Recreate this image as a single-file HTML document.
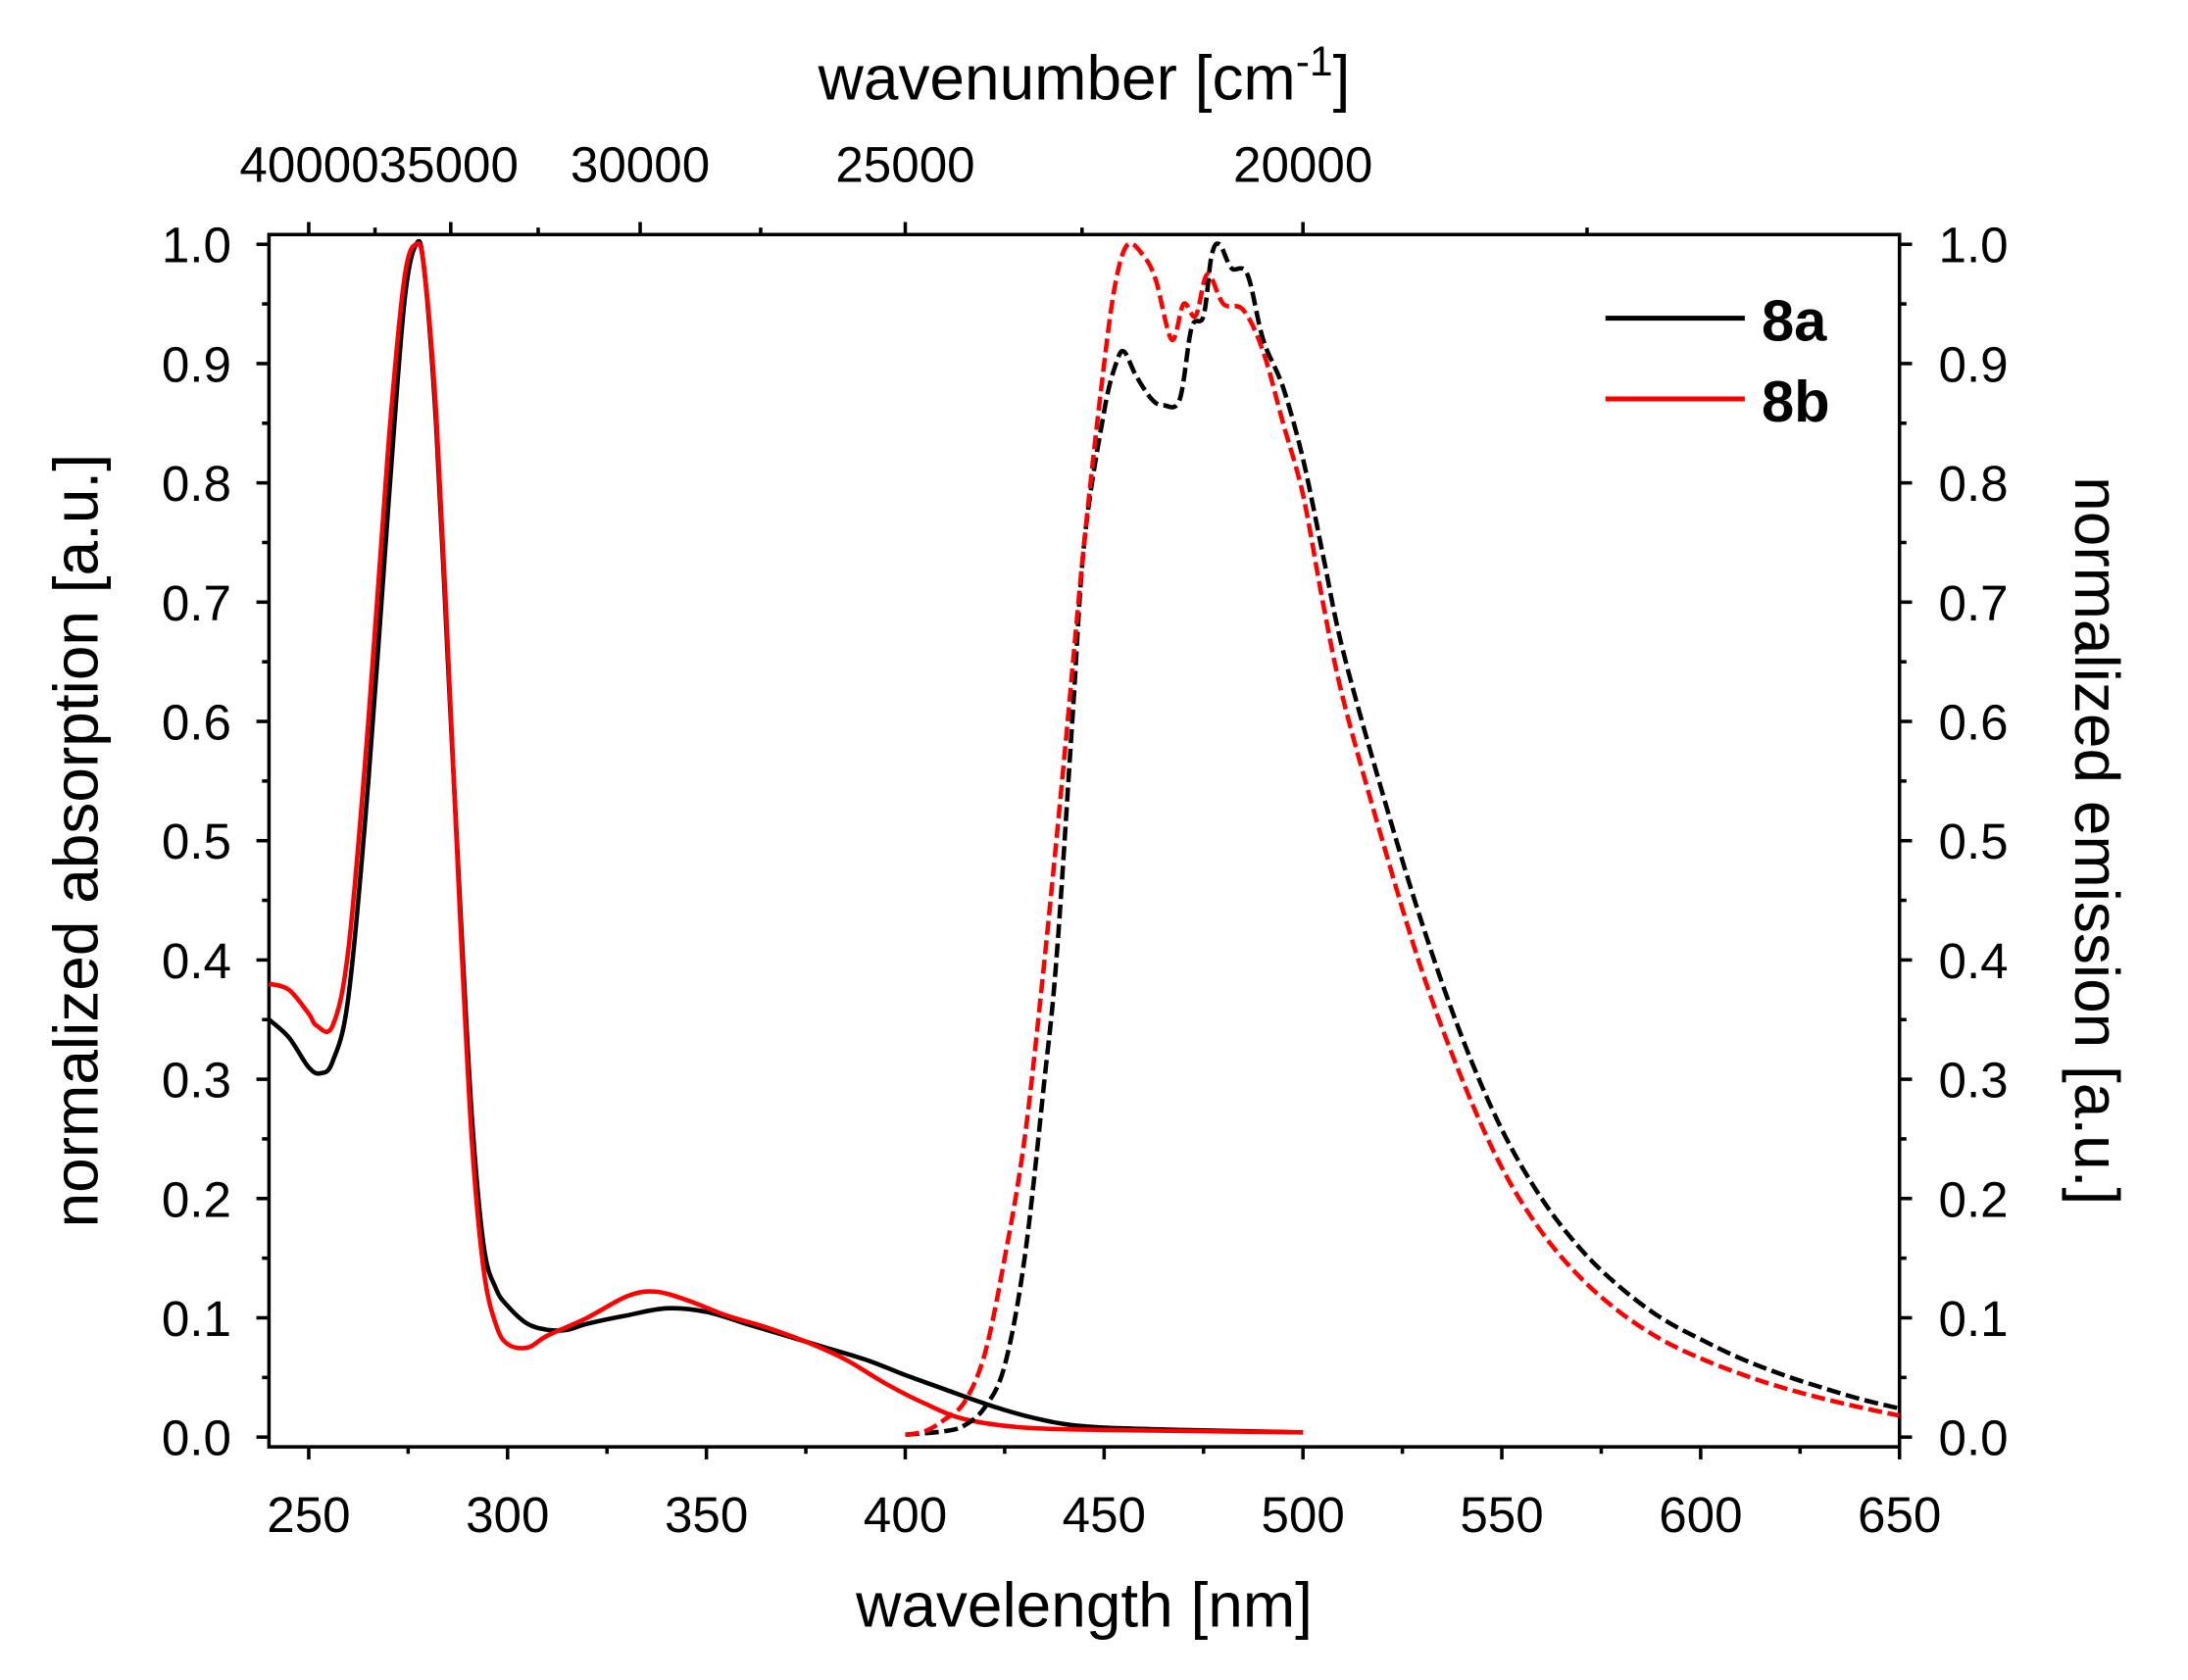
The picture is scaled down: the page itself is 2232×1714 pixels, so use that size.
<!DOCTYPE html>
<html><head><meta charset="utf-8">
<style>html,body{margin:0;padding:0;background:#fff}svg{display:block}text{font-family:"Liberation Sans",Arial,sans-serif;fill:#000}</style>
</head><body>
<svg id="chart" width="2232" height="1714" viewBox="0 0 1570 1205" xmlns="http://www.w3.org/2000/svg">
<g id="frame"></g>
<g id="series"></g>
<g id="axes"></g>
<text x="778" y="71" font-size="45" text-anchor="middle">wavenumber [cm<tspan dy="-17" font-size="30">-1</tspan><tspan dy="17">]</tspan></text>
<text x="778" y="1167" font-size="45" text-anchor="middle">wavelength [nm]</text>
<text transform="translate(70,603) rotate(-90)" font-size="45" text-anchor="middle">normalized absorption [a.u.]</text>
<text transform="translate(1489,603) rotate(90)" font-size="45" text-anchor="middle">normalized emission [a.u.]</text>
<g>
<line x1="1152" y1="228" x2="1252" y2="228" stroke="#000" stroke-width="3.5"/>
<text x="1264" y="244" font-size="42" font-weight="bold">8a</text>
<line x1="1152" y1="286" x2="1252" y2="286" stroke="#f00" stroke-width="3.5"/>
<text x="1264" y="302" font-size="42" font-weight="bold">8b</text>
</g>
</svg>
<script>
const absWl8a=[240,245,250,253,256,260,265,270,274,277,279,282,285,288,291,294,297,300,305,310,315,320,330,340,350,360,370,380,390,400,410,420,430,440,450,470,500];
const absVal8a=[0.35,0.335,0.31,0.305,0.315,0.37,0.55,0.78,0.95,1.0,0.98,0.85,0.65,0.45,0.27,0.16,0.125,0.11,0.095,0.09,0.09,0.095,0.102,0.108,0.105,0.095,0.085,0.075,0.065,0.052,0.04,0.028,0.018,0.011,0.008,0.006,0.004];
const absWl8b=[240,245,250,252,256,260,265,270,274,277,279,282,285,288,291,294,297,300,305,310,320,330,337,345,355,365,375,385,395,405,415,430,450,500];
const absVal8b=[0.38,0.375,0.355,0.345,0.345,0.41,0.6,0.83,0.97,1.0,0.98,0.86,0.66,0.44,0.25,0.14,0.095,0.078,0.075,0.085,0.1,0.118,0.122,0.115,0.102,0.092,0.08,0.065,0.045,0.028,0.015,0.008,0.006,0.004];
const emWl8a=[400,410,415,420,425,430,435,438,442,445,450,453,455,458,462,465,469,472,475,477,479,482,486,490,495,500,505,510,520,530,540,550,560,570,580,590,600,610,620,630,640,650];
const emVal8a=[0.002,0.005,0.01,0.025,0.06,0.15,0.3,0.4,0.6,0.75,0.86,0.9,0.91,0.89,0.87,0.865,0.87,0.93,0.94,0.99,1.0,0.98,0.975,0.92,0.88,0.82,0.74,0.66,0.54,0.43,0.335,0.258,0.2,0.157,0.125,0.1,0.082,0.066,0.053,0.042,0.032,0.024];
const emWl8b=[400,405,410,415,420,425,430,435,440,445,450,453,456,460,463,467,470,473,476,480,485,490,495,500,505,510,520,530,540,550,560,570,580,590,600,610,620,630,640,650];
const emVal8b=[0.002,0.005,0.015,0.03,0.07,0.15,0.25,0.4,0.57,0.75,0.9,0.97,1.0,0.99,0.97,0.92,0.95,0.94,0.975,0.95,0.945,0.91,0.85,0.79,0.7,0.62,0.5,0.39,0.3,0.226,0.172,0.133,0.104,0.082,0.066,0.053,0.042,0.033,0.025,0.018];
const xTicks=[250,300,350,400,450,500,550,600,650];
const yTicks=[0,0.1,0.2,0.3,0.4,0.5,0.6,0.7,0.8,0.9,1.0];
const topTicks=[40000,35000,30000,25000,20000];
const topMinor=[37500,32500,27500,22500,17500];

const NS='http://www.w3.org/2000/svg';
const L=193,R=1363,T=168,B=1038;
const xs=w=>L+(w-240)/(650-240)*(R-L);
const ys=v=>1031+(175-1031)*v;
function mk(tag,attrs,parent){const e=document.createElementNS(NS,tag);for(const k in attrs)e.setAttribute(k,attrs[k]);parent.appendChild(e);return e;}
const fr=document.getElementById('frame'),se=document.getElementById('series'),ax=document.getElementById('axes');
const box=mk('rect',{x:L,y:T,width:R-L,height:B-T,fill:'none',stroke:'#000','stroke-width':2.5},fr);


function line(x1,y1,x2,y2,name){const l=mk('line',{x1,y1,x2,y2,stroke:'#000','stroke-width':2.5},ax);

}
function txt(x,y,s,anchor,name){const t=mk('text',{x,y,'font-size':36,'text-anchor':anchor},ax);t.textContent=s;

}
xTicks.forEach(w=>{const x=xs(w);line(x,B,x,B+9,'x-tick');txt(x,1099,String(w),'middle','x-tick-label');});
for(let w=275;w<650;w+=50){line(xs(w),B,xs(w),B+5,'x-minor-tick');}
yTicks.forEach(v=>{const y=ys(v);line(L,y,L-9,y,'y-tick-left');line(R,y,R+9,y,'y-tick-right');
txt(166,y+13,v.toFixed(1),'end','y-tick-label-left');txt(1391,y+13,v.toFixed(1),'start','y-tick-label-right');});
for(let v=0.05;v<1;v+=0.1){const y=ys(v);line(L,y,L-5,y,'y-minor-tick-left');line(R,y,R+5,y,'y-minor-tick-right');}
topTicks.forEach(n=>{const x=xs(1e7/n);line(x,T,x,T-9,'top-tick');});
txt(272,130,'4000035000','middle','top-tick-label');
topTicks.slice(2).forEach(n=>{txt(xs(1e7/n),130,String(n),'middle','top-tick-label');});
topMinor.forEach(n=>{const x=xs(1e7/n);line(x,T,x,T-5,'top-minor-tick');});
function path(wl,val,color,dash,name){
const P=wl.map((w,i)=>[xs(w),ys(val[i])]);
let d='M'+P[0][0].toFixed(1)+','+P[0][1].toFixed(1);
for(let i=0;i<P.length-1;i++){const p0=P[Math.max(0,i-1)],p1=P[i],p2=P[i+1],p3=P[Math.min(P.length-1,i+2)];
const c1=[p1[0]+(p2[0]-p0[0])/6,p1[1]+(p2[1]-p0[1])/6],c2=[p2[0]-(p3[0]-p1[0])/6,p2[1]-(p3[1]-p1[1])/6];
d+='C'+c1[0].toFixed(1)+','+c1[1].toFixed(1)+' '+c2[0].toFixed(1)+','+c2[1].toFixed(1)+' '+p2[0].toFixed(1)+','+p2[1].toFixed(1);}
const p=mk('path',{d,fill:'none',stroke:color,'stroke-width':3.2,'stroke-linejoin':'round'},se);if(dash)p.setAttribute('stroke-dasharray',dash);

}
path(absWl8a,absVal8a,'#000',null,'absorption-8a');
path(absWl8b,absVal8b,'#f00',null,'absorption-8b');
path(emWl8a,emVal8a,'#000','10,4','emission-8a');
path(emWl8b,emVal8b,'#f00','10,4','emission-8b');
</script>
</body></html>
